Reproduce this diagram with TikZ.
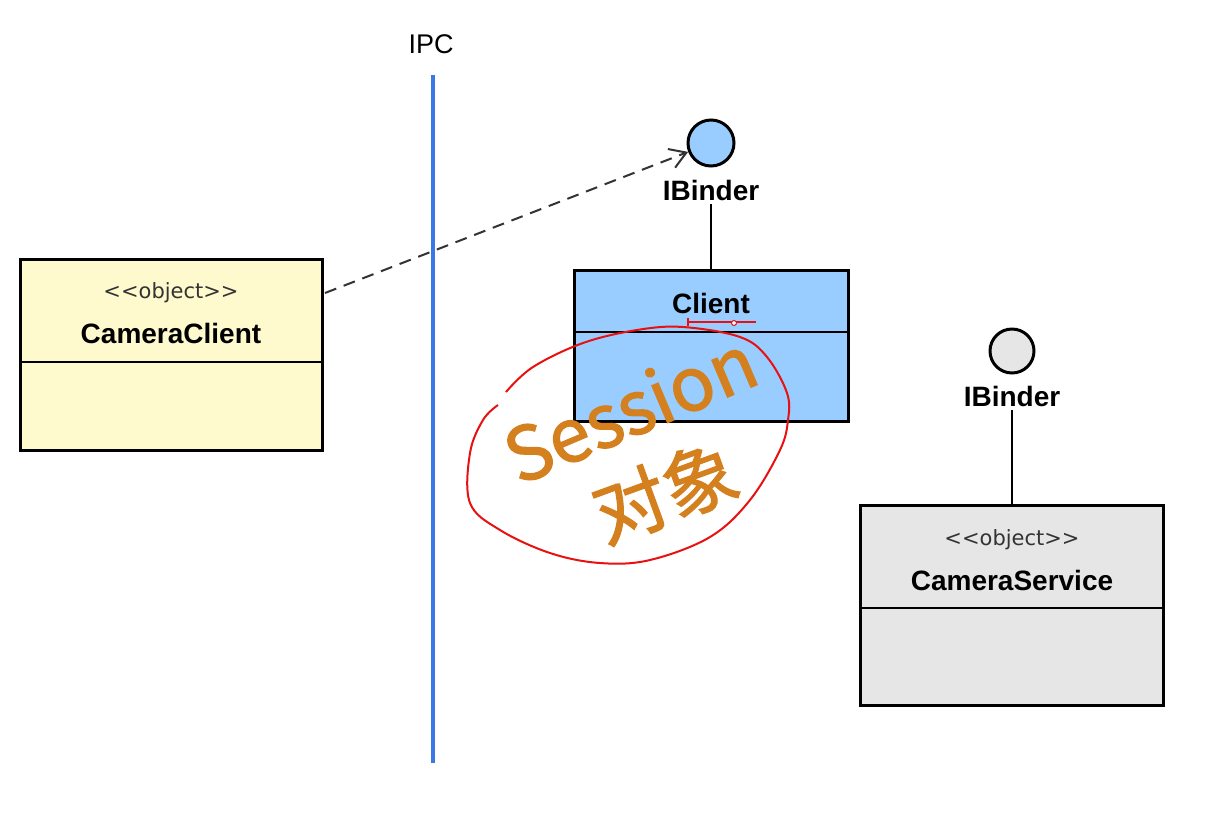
\documentclass[tikz,border=0pt]{standalone}
\usepackage{fontspec}
\setmainfont{Liberation Sans}
\newfontfamily\cjk{Noto Sans CJK SC}[FakeBold=1.6]
\newfontfamily\stfont{DejaVu Sans}
\usetikzlibrary{arrows.meta,calc}
\definecolor{ipcblue}{HTML}{3B78E7}
\definecolor{ccfill}{HTML}{FFFACD}
\definecolor{clfill}{HTML}{99CCFF}
\definecolor{csfill}{HTML}{E6E6E6}
\definecolor{inkorange}{HTML}{D4801F}
\definecolor{inkred}{HTML}{E81010}
\tikzset{
  umlbox/.style={draw=black, line width=3pt, rectangle, inner sep=0pt},
  iface/.style={draw=black, line width=3pt, circle, inner sep=0pt, minimum size=46pt},
  stereo/.style={font=\stfont\fontsize{21}{24}\selectfont, text=black!80},
  cname/.style={font=\bfseries\fontsize{28}{32}\selectfont},
  divider/.style={line width=2pt},
  stem/.style={line width=2pt},
}
\begin{document}
\begin{tikzpicture}[x=1pt,y=-1pt]
\useasboundingbox (0,0) rectangle (1210,812);
\fill[white] (0,0) rectangle (1210,812);

% IPC line
\node[font=\fontsize{27}{30}\selectfont] (ipc) at (431,44) {IPC};
\coordinate (ipctop) at (433,75);
\coordinate (ipcbot) at (433,763);
\draw[ipcblue, line width=4pt] (ipctop) -- (ipcbot);

% CameraClient
\node[umlbox, fill=ccfill, minimum width=302pt, minimum height=191pt] (cc) at (171,354.5) {};
\draw[divider] (20,362) -- (322,362);
\node[stereo] (ccst) at (171,293) {<{}<object>{}>};
\node[cname] (ccn) at (171,333) {CameraClient};

% Client
\node[iface, fill=clfill] (ib1) at (711,143) {};
\node[cname] (ib1l) at (711,190) {IBinder};
\node[umlbox, fill=clfill, minimum width=274pt, minimum height=151pt] (cl) at (711,345.5) {};
\draw[divider] (574,332) -- (848,332);
\node[cname] (cln) at (711,303) {Client};
\draw[stem] (ib1l.south) -- (cl.north);

% red underline mark under Client
\draw[inkred, line width=1.5pt] (688,322) -- (756,322);
\draw[inkred, line width=1.5pt] (688,318) -- (688,326);
\draw[inkred, fill=white, line width=1pt] (734,323) circle (2.5pt);

% CameraService
\node[iface, fill=csfill, minimum size=44pt] (ib2) at (1012,351) {};
\node[cname] (ib2l) at (1012,396) {IBinder};
\node[umlbox, fill=csfill, minimum width=303pt, minimum height=200pt] (cs) at (1012,605) {};
\draw[divider] (860,608) -- (1164,608);
\node[stereo] (csst) at (1012,540) {<{}<object>{}>};
\node[cname] (csn) at (1012,580) {CameraService};
\draw[stem] (ib2l.south) -- (cs.north);

% dashed dependency
\coordinate (dstart) at (325,293);
\draw[black!80, line width=2pt, dash pattern=on 12pt off 8pt, -{Straight Barb[length=16pt,width=20pt,line width=2pt]}] (dstart) -- (ib1);

% hand annotation
\draw[inkred, line width=2pt] plot[smooth, tension=0.6] coordinates {
  (506,392) (533,367) (583,343) (637,330) (683,327) (740,337) (767,357)
  (787,393) (788,420) (780,450) (750,500) (710,537) (650,560) (600,563)
  (550,553) (500,530) (470,503) (470,453) (483,420) (498,405)};
\node[inkorange, rotate=23, font=\cjk\fontsize{74}{80}\selectfont] (sess) at (630,408) {Session};
\node[inkorange, rotate=20, font=\cjk\fontsize{74}{80}\selectfont] (dx) at (665,492) {对象};
\end{tikzpicture}
\end{document}
